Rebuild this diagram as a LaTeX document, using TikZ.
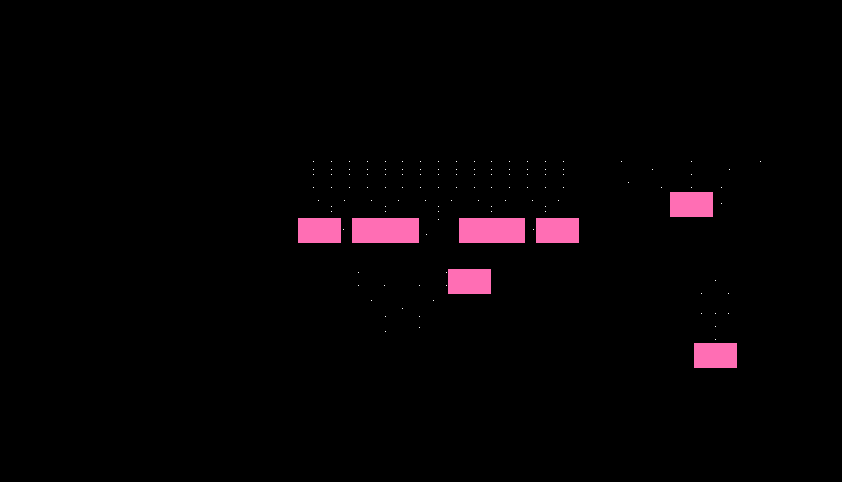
\documentclass[tikz,border=0pt]{standalone}
\usepackage{tikz}

\definecolor{boxpink}{HTML}{FF6EB4}

\tikzset{
  pinkbox/.style={fill=boxpink, draw=none, inner sep=0pt, minimum height=0.5cm, minimum width=0.86cm},
  widebox/.style={pinkbox, minimum width=1.33cm},
}

\begin{document}
\begin{tikzpicture}[x=0.02cm,y=-0.02cm]

%\draw[help lines] (0,0) grid (842,482);
\fill[black] (0,0) rectangle (842,482);
\useasboundingbox (0,0) rectangle (842,482);

% boxes
\node[pinkbox] (left) at (319.5,230.5) {};
\node[widebox] (midleft) at (385.5,230.5) {};
\node[widebox] (midright) at (492,230.5) {};
\node[pinkbox] (right) at (557.5,230.5) {};
\node[pinkbox] (low) at (469.5,281.5) {};
\node[pinkbox] (top) at (691.5,204.5) {};
\node[pinkbox] (bottom) at (715.5,355.5) {};

% specks above the row
\foreach \y in {161,169,174,187}
  \foreach \x in {313,331,349,367,385,402,420,438,456,474,491,509,527,545,563}
    \fill[white] (\x,\y) rectangle ++(1,1);
\foreach \x in {318,344,371,398,425,451,478,505,532,558}
  \fill[white] (\x,200) rectangle ++(1,1);
\foreach \y in {206,211}
  \foreach \x in {331,385,438,491,545}
    \fill[white] (\x,\y) rectangle ++(1,1);
\foreach \x/\y in {438/219,343/229,533/229,426/234}
  \fill[white] (\x,\y) rectangle ++(1,1);

% specks round the boxes on the right
\foreach \x/\y in {621/161,691/161,760/161,652/169,729/169,691/174,628/182,
                   661/187,691/187,721/187,721/203,
                   715/280,701/293,728/293,701/313,715/313,728/313,715/326,715/339}
  \fill[white] (\x,\y) rectangle ++(1,1);

% specks below the row
\foreach \x/\y in {358/272,446/272,358/285,384/285,419/285,446/285,371/300,433/300,
                   402/308,385/316,419/316,419/327,385/331}
  \fill[white] (\x,\y) rectangle ++(1,1);

\end{tikzpicture}
\end{document}
